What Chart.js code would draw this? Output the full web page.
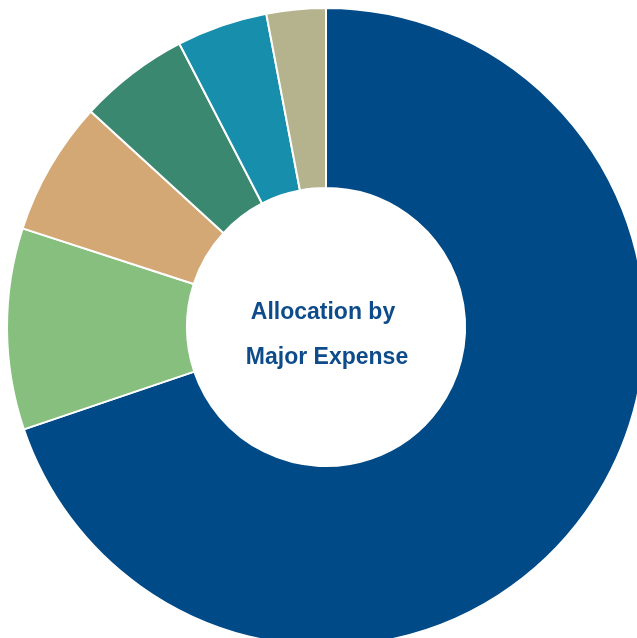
<!DOCTYPE html>
<html>
<head>
<meta charset="utf-8">
<style>
  html, body { margin: 0; padding: 0; background: #ffffff; overflow: hidden; }
  #expenseChart { display: block; }
</style>
<script src="https://cdn.jsdelivr.net/npm/chart.js@4/dist/chart.umd.min.js"></script>
</head>
<body>
<canvas id="expenseChart" width="652" height="654"></canvas>
<script>
// expense categories, clockwise from 12 o'clock
const categories = ['Personnel', 'Programs', 'Facilities', 'Technology', 'Administration', 'Other'];
const shares = [69.8, 10.2, 6.8, 5.6, 4.6, 3.0];
const sliceColors = ['#004a87', '#86bf7e', '#d4a874', '#3b8870', '#178eab', '#b5b28e'];
const centerLines = ['Allocation by', 'Major Expense'];

// writes the two-line caption inside the hole
const centerText = {
    id: 'centerText',
    afterDraw(chart) {
        const arc = chart.getDatasetMeta(0).data[0];
        const ctx = chart.ctx;
        ctx.save();
        ctx.fillStyle = '#0d4b8a';
        ctx.font = 'bold 23px "Liberation Sans", Arial, sans-serif';
        ctx.textAlign = 'center';
        ctx.textBaseline = 'alphabetic';
        ctx.fillText(centerLines[0], arc.x - 3, arc.y - 8);
        ctx.fillText(centerLines[1], arc.x + 1, arc.y + 37);
        ctx.restore();
    }
};

const ctx = document.getElementById('expenseChart').getContext('2d');
new Chart(ctx, {
    type: 'doughnut',
    data: {
        labels: categories,
        datasets: [{
            data: shares,
            backgroundColor: sliceColors,
            borderColor: '#ffffff',
            borderWidth: 2
        }]
    },
    options: {
        responsive: false,
        animation: false,
        cutout: '43.6%',
        layout: { padding: 6 },
        plugins: {
            legend: { display: false },
            tooltip: { enabled: false }
        }
    },
    plugins: [centerText]
});
</script>
</body>
</html>
